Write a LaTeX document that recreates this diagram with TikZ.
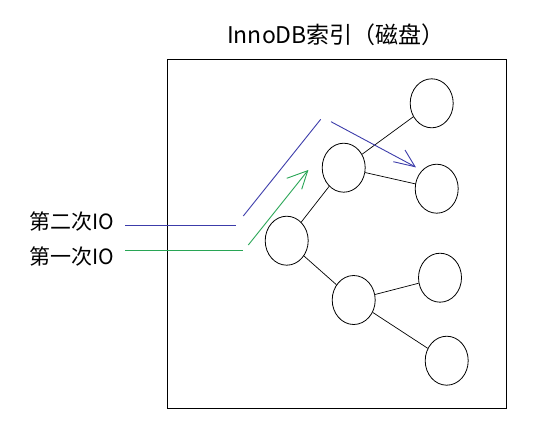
\documentclass[tikz,border=0pt]{standalone}
\usepackage{fontspec}
\setmainfont{Noto Sans CJK SC}
\usetikzlibrary{shapes.geometric}
\definecolor{ioblue}{RGB}{60,60,170}
\definecolor{iogreen}{RGB}{40,165,85}
\tikzset{
  treenode/.style={draw, ellipse, minimum width=43pt, minimum height=49pt, inner sep=0pt, line width=0.8pt},
  edge/.style={draw, line width=0.7pt},
  lbl/.style={font=\fontsize{21pt}{24pt}\selectfont, inner sep=0pt, anchor=west},
  ttl/.style={font=\fontsize{23pt}{26pt}\selectfont, inner sep=0pt, anchor=west},
  ioline/.style={line width=0.9pt},
}
\begin{document}
\begin{tikzpicture}[x=1pt,y=-1pt]
\useasboundingbox (0,0) rectangle (534,442);
\draw[line width=0.9pt] (167.5,59.5) rectangle (506.5,408.5);
\node[ttl] (title) at (227,35) {InnoDB索引（磁盘）};
\node[treenode] (c1) at (431.7,103.3) {};
\node[treenode] (c2) at (436.7,188.7) {};
\node[treenode] (c3) at (343.7,167.7) {};
\node[treenode] (c4) at (286.7,240.7) {};
\node[treenode] (c5) at (353.7,300) {};
\node[treenode] (c6) at (440,277.7) {};
\node[treenode] (c7) at (446.7,360.7) {};
\draw[edge] (c3) -- (c1);
\draw[edge] (c3) -- (c2);
\draw[edge] (c4) -- (c3);
\draw[edge] (c4) -- (c5);
\draw[edge] (c5) -- (c6);
\draw[edge] (c5) -- (c7);
\node[lbl] (io2) at (29,221.7) {第二次IO};
\node[lbl] (io1) at (29,256.7) {第一次IO};
% second IO (blue)
\coordinate (b0) at (125,225.5);
\coordinate (b1) at (236,225.5);
\coordinate (b2) at (243.3,216);
\coordinate (b3) at (320.7,119.3);
\coordinate (b4) at (331,121.7);
\coordinate (b5) at (415,166.7);
\coordinate (bh1) at (405,150);
\coordinate (bh2) at (393.3,161.7);
\draw[ioblue, ioline] (b0) -- (b1);
\draw[ioblue, ioline] (b2) -- (b3);
\draw[ioblue, ioline] (b4) -- (b5);
\draw[ioblue, ioline] (bh1) -- (b5) -- (bh2);
% first IO (green)
\coordinate (g0) at (125,250.5);
\coordinate (g1) at (243.3,250.5);
\coordinate (g2) at (248.3,245);
\coordinate (g3) at (307.7,170.7);
\coordinate (gh1) at (286.7,178.3);
\coordinate (gh2) at (301.7,189.3);
\draw[iogreen, ioline] (g0) -- (g1);
\draw[iogreen, ioline] (g2) -- (g3);
\draw[iogreen, ioline] (gh1) -- (g3) -- (gh2);
\end{tikzpicture}
\end{document}
